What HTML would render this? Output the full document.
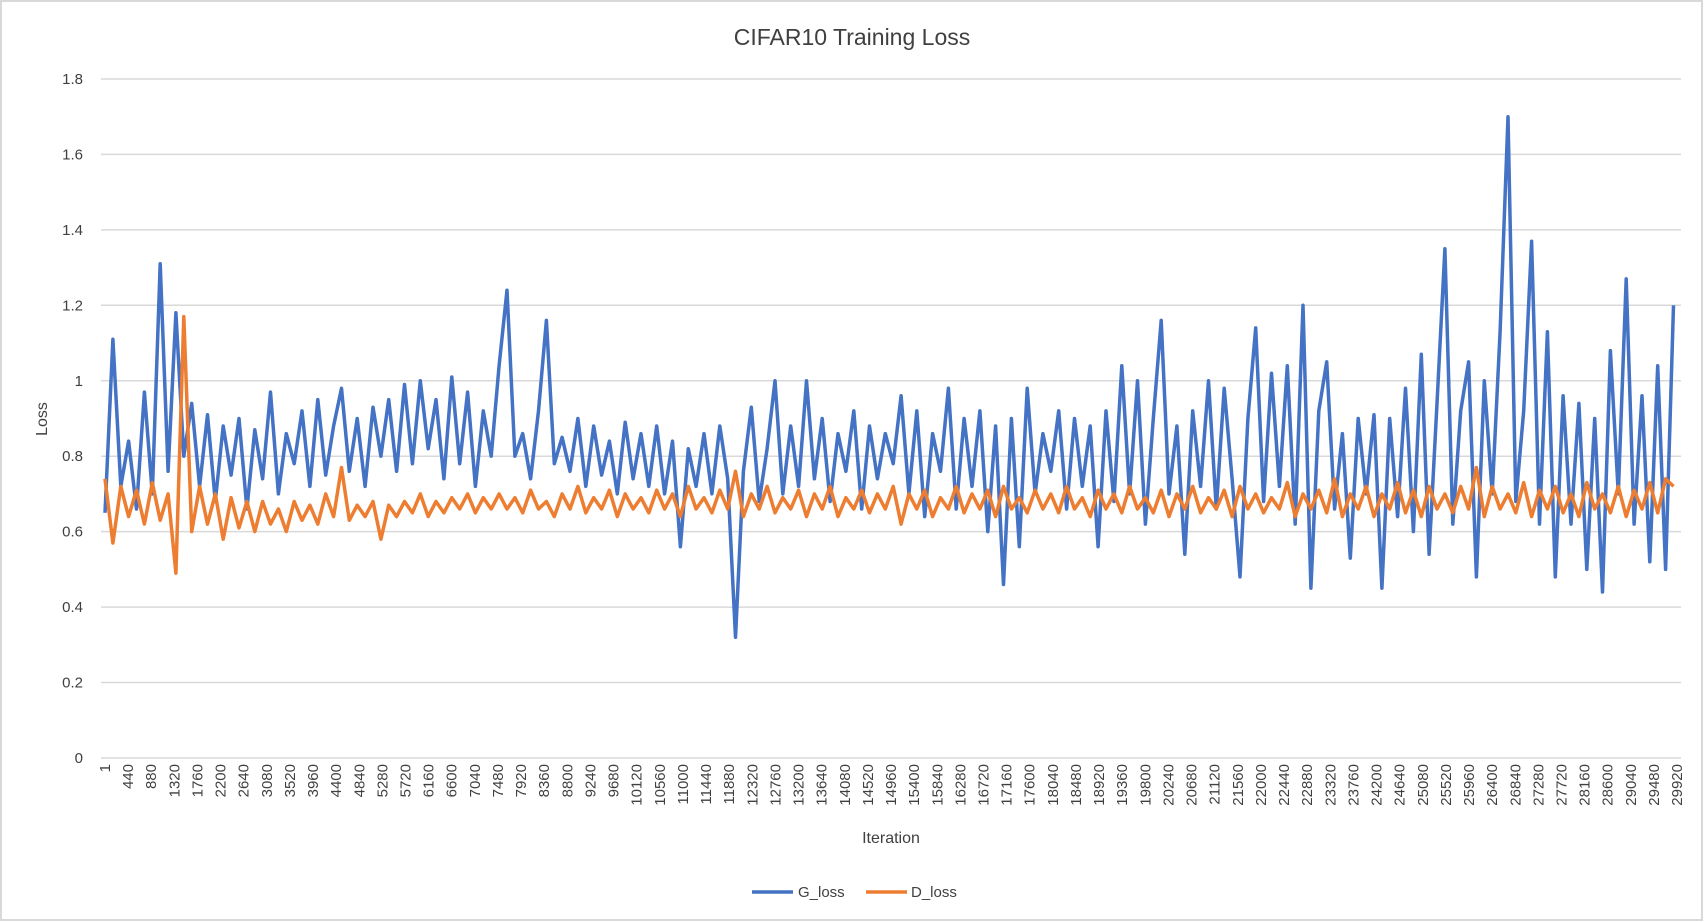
<!DOCTYPE html>
<html><head><meta charset="utf-8"><style>
body{margin:0;background:#fff;}
svg{display:block;font-family:"Liberation Sans",sans-serif;}
</style></head><body>
<svg id="chart" width="1704" height="922" xmlns="http://www.w3.org/2000/svg">
<rect x="1" y="1" width="1701" height="919" fill="#fff" stroke="#d9d9d9" stroke-width="2"/>
<text x="852" y="45" text-anchor="middle" font-size="23" fill="#404040">CIFAR10 Training Loss</text>
<text transform="translate(47,419) rotate(-90)" text-anchor="middle" font-size="16" fill="#404040">Loss</text>
<text x="891" y="843" text-anchor="middle" font-size="16" fill="#404040">Iteration</text>
<g id="grid"></g><g id="yt"></g><g id="xt"></g><g id="series"></g>
<g>
<line x1="752" y1="892" x2="793" y2="892" stroke="#4472C4" stroke-width="3.5"/>
<text x="798" y="897" font-size="15" fill="#404040">G_loss</text>
<line x1="866" y1="892" x2="907" y2="892" stroke="#ED7D31" stroke-width="3.5"/>
<text x="911" y="897" font-size="15" fill="#404040">D_loss</text>
</g>
</svg>
<script>
const yTicks=[0,0.2,0.4,0.6,0.8,1,1.2,1.4,1.6,1.8];
const step=150;
const gLoss=[0.65,1.11,0.72,0.84,0.66,0.97,0.70,1.31,0.76,1.18,
0.80,0.94,0.72,0.91,0.68,0.88,0.75,0.90,0.66,0.87,
0.74,0.97,0.70,0.86,0.78,0.92,0.72,0.95,0.75,0.88,
0.98,0.76,0.90,0.72,0.93,0.80,0.95,0.76,0.99,0.78,
1.00,0.82,0.95,0.74,1.01,0.78,0.97,0.72,0.92,0.80,
1.04,1.24,0.80,0.86,0.74,0.92,1.16,0.78,0.85,0.76,
0.90,0.72,0.88,0.75,0.84,0.70,0.89,0.74,0.86,0.72,
0.88,0.70,0.84,0.56,0.82,0.72,0.86,0.70,0.88,0.74,
0.32,0.76,0.93,0.68,0.82,1.00,0.70,0.88,0.72,1.00,
0.74,0.90,0.68,0.86,0.76,0.92,0.66,0.88,0.74,0.86,
0.78,0.96,0.70,0.92,0.64,0.86,0.76,0.98,0.66,0.90,
0.72,0.92,0.60,0.88,0.46,0.90,0.56,0.98,0.70,0.86,
0.76,0.92,0.66,0.90,0.72,0.88,0.56,0.92,0.68,1.04,
0.70,1.00,0.62,0.90,1.16,0.70,0.88,0.54,0.92,0.72,
1.00,0.66,0.98,0.74,0.48,0.90,1.14,0.68,1.02,0.72,
1.04,0.62,1.20,0.45,0.92,1.05,0.66,0.86,0.53,0.90,
0.70,0.91,0.45,0.90,0.64,0.98,0.60,1.07,0.54,0.94,
1.35,0.62,0.92,1.05,0.48,1.00,0.70,1.13,1.70,0.68,
0.92,1.37,0.62,1.13,0.48,0.96,0.62,0.94,0.50,0.90,
0.44,1.08,0.70,1.27,0.62,0.96,0.52,1.04,0.50,1.20];
const dLoss=[0.74,0.57,0.72,0.64,0.71,0.62,0.73,0.63,0.70,0.49,
1.17,0.60,0.72,0.62,0.70,0.58,0.69,0.61,0.68,0.60,
0.68,0.62,0.66,0.60,0.68,0.63,0.67,0.62,0.70,0.64,
0.77,0.63,0.67,0.64,0.68,0.58,0.67,0.64,0.68,0.65,
0.70,0.64,0.68,0.65,0.69,0.66,0.70,0.65,0.69,0.66,
0.70,0.66,0.69,0.65,0.71,0.66,0.68,0.64,0.70,0.66,
0.72,0.65,0.69,0.66,0.71,0.64,0.70,0.66,0.69,0.65,
0.71,0.66,0.70,0.64,0.72,0.66,0.69,0.65,0.71,0.66,
0.76,0.64,0.70,0.66,0.72,0.65,0.69,0.66,0.71,0.64,
0.70,0.66,0.72,0.64,0.69,0.66,0.71,0.65,0.70,0.66,
0.72,0.62,0.70,0.66,0.71,0.64,0.69,0.66,0.72,0.65,
0.70,0.66,0.71,0.64,0.72,0.66,0.69,0.65,0.71,0.66,
0.70,0.65,0.72,0.66,0.69,0.64,0.71,0.66,0.70,0.65,
0.72,0.66,0.69,0.65,0.71,0.64,0.70,0.66,0.72,0.65,
0.69,0.66,0.71,0.64,0.72,0.66,0.70,0.65,0.69,0.66,
0.73,0.64,0.70,0.66,0.71,0.65,0.74,0.64,0.70,0.66,
0.72,0.64,0.70,0.66,0.73,0.65,0.71,0.64,0.72,0.66,
0.70,0.65,0.72,0.66,0.77,0.64,0.72,0.66,0.70,0.65,
0.73,0.64,0.71,0.66,0.72,0.65,0.70,0.64,0.73,0.66,
0.70,0.65,0.72,0.64,0.71,0.66,0.73,0.65,0.74,0.72];
const xTickLabels=[];for(let k=0;k<=68;k++)xTickLabels.push(k===0?1:k*440);

const NS="http://www.w3.org/2000/svg";
const X0=105,PX_PER=23.12/440,Y0=758,PX_Y=75.45/0.2;
function xs(it){return X0+(it-1)*PX_PER;}
function ys(v){return Y0-v*PX_Y;}
function mk(tag,attrs,parent){const e=document.createElementNS(NS,tag);for(const k in attrs)e.setAttribute(k,attrs[k]);parent.appendChild(e);return e;}
const grid=document.getElementById('grid'),yt=document.getElementById('yt'),xt=document.getElementById('xt'),ser=document.getElementById('series');
yTicks.forEach(v=>{
 const l=mk('line',{x1:101,x2:1681,y1:ys(v),y2:ys(v),stroke:'#d9d9d9','stroke-width':1.5},grid);
 
 
 const t=mk('text',{x:83,y:ys(v)+5,'text-anchor':'end','font-size':15,fill:'#404040'},yt);
 
 
 t.textContent=String(v);
});
xTickLabels.forEach(v=>{
 const x=xs(v);
 const t=mk('text',{transform:`translate(${x+5},764) rotate(-90)`,'text-anchor':'end','font-size':15,fill:'#404040'},xt);
 
 
 t.textContent=String(v);
});
function series(arr,color,name){
 const pts=arr.map((v,i)=>xs(i*step+1).toFixed(1)+','+ys(v).toFixed(1)).join(' ');
 const p=mk('polyline',{points:pts,fill:'none',stroke:color,'stroke-width':3.5,'stroke-linejoin':'round'},ser);
 
 
}
series(gLoss,'#4472C4','g-loss-line');
series(dLoss,'#ED7D31','d-loss-line');
</script>
</body></html>
